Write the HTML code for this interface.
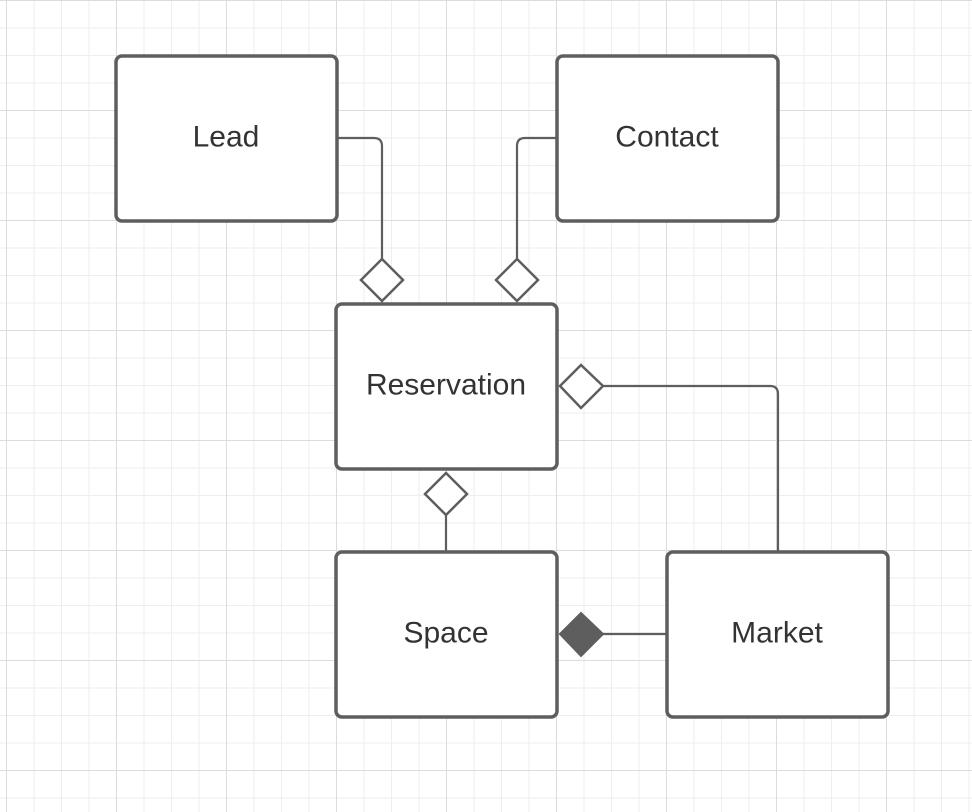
<!DOCTYPE html>
<html><head><meta charset="utf-8"><style>
html,body{margin:0;padding:0;}
body{width:972px;height:812px;overflow:hidden;background-color:#fff;
background-image:
linear-gradient(to right,#dcdcdc 1px,transparent 1px),
linear-gradient(to bottom,#dcdcdc 1px,transparent 1px),
linear-gradient(to right,#eeeeee 1px,transparent 1px),
linear-gradient(to bottom,#eeeeee 1px,transparent 1px);
background-size:110px 110px,110px 110px,27.5px 27.5px,27.5px 27.5px;
background-position:6px 0,0 0,6px 0,0 0;}
svg{position:absolute;left:0;top:0;}
text{font-family:"Liberation Sans",sans-serif;font-size:30px;fill:#333;text-anchor:middle;dominant-baseline:central;}
</style></head><body>
<svg width="972" height="812" viewBox="0 0 972 812">
<g fill="#fff" stroke="#5e5e5e" stroke-width="3.5">
<rect x="116" y="56" width="221" height="165" rx="6"/>
<rect x="557" y="56" width="221" height="165" rx="6"/>
<rect x="336" y="304" width="221" height="165" rx="6"/>
<rect x="336" y="552" width="221" height="165" rx="6"/>
<rect x="667" y="552" width="221" height="165" rx="6"/>
</g>
<g fill="none" stroke="#5e5e5e" stroke-width="2.2">
<path d="M338 138 H374 Q382 138 382 146 V259"/>
<path d="M556 138 H525 Q517 138 517 146 V259"/>
<path d="M603 386 H770 Q778 386 778 394 V551"/>
<path d="M446 515 V551"/>
<path d="M603 634 H666"/>
</g>
<g fill="#fff" stroke="#5e5e5e" stroke-width="2.5">
<polygon points="382,259 403,280 382,301 361,280"/>
<polygon points="517,259 538,280 517,301 496,280"/>
<polygon points="560,386 581,365 603,386 581,408"/>
<polygon points="446,473 467,494 446,515 425,494"/>
</g>
<polygon points="560,634 581,613 603,634 581,656" fill="#5e5e5e" stroke="#5e5e5e" stroke-width="2"/>
<text x="226" y="137">Lead</text>
<text x="667" y="137">Contact</text>
<text x="446" y="385">Reservation</text>
<text x="446" y="633">Space</text>
<text x="777" y="633">Market</text>
</svg>
</body></html>
